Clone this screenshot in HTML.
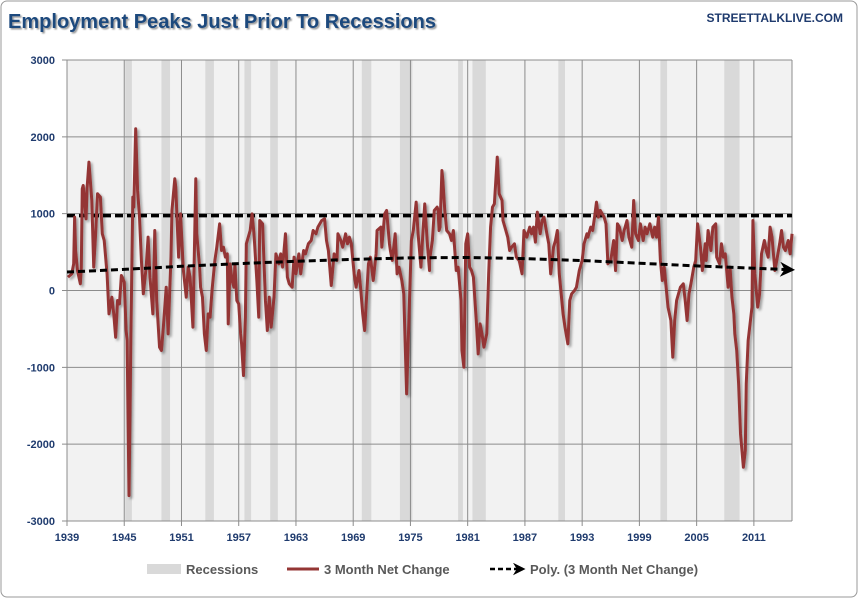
<!DOCTYPE html>
<html><head><meta charset="utf-8"><style>
body{margin:0;background:#fff;}
svg text{font-family:"Liberation Sans",sans-serif;}
</style></head><body>
<svg id="c" width="859" height="599" xmlns="http://www.w3.org/2000/svg">
<defs>
<filter id="sh" x="-5%" y="-5%" width="110%" height="110%"><feDropShadow dx="2" dy="2" stdDeviation="1.2" flood-color="#000" flood-opacity="0.35"/></filter>
<filter id="tsh"><feDropShadow dx="1.5" dy="1.5" stdDeviation="0.8" flood-color="#000" flood-opacity="0.4"/></filter>
<marker id="arr" viewBox="0 0 10 10" refX="8" refY="5" markerWidth="5" markerHeight="5" orient="auto"><path d="M0,0 L10,5 L0,10 L3,5 z" fill="#000"/></marker>
</defs>
<rect x="1" y="1" width="856" height="596" rx="6" fill="#fff" stroke="#999"/>
<text x="8" y="28" font-size="20" font-weight="bold" fill="#1f497d" filter="url(#tsh)" textLength="428" lengthAdjust="spacingAndGlyphs">Employment Peaks Just Prior To Recessions</text>
<text x="843" y="22" font-size="12" font-weight="bold" fill="#1f3b6e" text-anchor="end">STREETTALKLIVE.COM</text>
<rect x="67" y="60" width="725" height="461" fill="#f2f2f2"/>
<g id="rec"></g><g id="grid"></g><g id="axes"></g><g id="series"></g>
<g>
<rect x="147" y="564" width="34" height="10" fill="#d9d9d9"/>
<text x="186" y="574" font-size="13" font-weight="bold" fill="#595959">Recessions</text>
<line x1="287" y1="569" x2="319" y2="569" stroke="#943634" stroke-width="3"/>
<text x="324" y="574" font-size="13" font-weight="bold" fill="#595959">3 Month Net Change</text>
<line x1="490" y1="569" x2="523" y2="569" stroke="#000" stroke-width="2.5" stroke-dasharray="5,3" marker-end="url(#arr)"/>
<text x="530" y="574" font-size="13" font-weight="bold" fill="#595959">Poly. (3 Month Net Change)</text>
</g>
</svg>
<script>
const years=[1939.1,1939.5,1939.7,1939.8,1939.9,1940.1,1940.4,1940.5,1940.6,1940.7,1941.0,1941.1,1941.3,1941.6,1941.8,1942.0,1942.2,1942.5,1942.7,1942.9,1943.2,1943.4,1943.7,1943.9,1944.1,1944.3,1944.5,1944.7,1945.0,1945.2,1945.3,1945.5,1945.7,1945.9,1946.0,1946.2,1946.4,1946.6,1946.8,1947.0,1947.3,1947.5,1947.7,1948.0,1948.2,1948.4,1948.7,1948.9,1949.1,1949.4,1949.6,1949.9,1950.0,1950.3,1950.4,1950.7,1950.9,1951.2,1951.5,1951.7,1951.9,1952.2,1952.5,1952.6,1952.9,1953.0,1953.2,1953.4,1953.6,1953.8,1954.0,1954.2,1954.5,1954.7,1955.0,1955.2,1955.4,1955.6,1955.8,1955.9,1956.1,1956.3,1956.5,1956.6,1956.8,1957.0,1957.2,1957.3,1957.5,1957.7,1957.8,1958.2,1958.4,1958.6,1958.9,1959.1,1959.2,1959.5,1959.8,1960.0,1960.2,1960.4,1960.7,1960.9,1961.2,1961.4,1961.6,1961.9,1962.1,1962.3,1962.6,1962.8,1963.0,1963.3,1963.5,1963.8,1964.0,1964.3,1964.6,1964.8,1965.1,1965.3,1965.7,1966.0,1966.2,1966.4,1966.7,1967.0,1967.3,1967.4,1967.7,1967.9,1968.2,1968.4,1968.6,1968.8,1969.1,1969.3,1969.6,1969.8,1970.0,1970.2,1970.4,1970.6,1970.8,1971.1,1971.4,1971.5,1971.9,1972.0,1972.3,1972.5,1972.8,1972.9,1973.1,1973.4,1973.6,1973.8,1974.1,1974.3,1974.6,1974.9,1975.1,1975.3,1975.6,1975.8,1976.1,1976.3,1976.5,1976.8,1977.0,1977.0,1977.3,1977.5,1977.8,1977.9,1978.0,1978.1,1978.3,1978.4,1978.6,1978.8,1979.1,1979.3,1979.5,1979.8,1980.0,1980.3,1980.4,1980.6,1980.8,1981.0,1981.2,1981.4,1981.6,1981.9,1982.1,1982.3,1982.5,1982.7,1983.0,1983.2,1983.4,1983.6,1983.8,1984.1,1984.3,1984.6,1984.7,1984.9,1985.2,1985.4,1985.6,1985.9,1986.1,1986.4,1986.7,1986.9,1987.2,1987.5,1987.7,1987.9,1988.1,1988.3,1988.6,1988.8,1989.0,1989.3,1989.5,1989.7,1990.0,1990.2,1990.4,1990.6,1990.8,1991.0,1991.2,1991.5,1991.7,1991.9,1992.2,1992.4,1992.7,1993.0,1993.2,1993.5,1993.6,1993.9,1994.1,1994.3,1994.5,1994.7,1994.9,1995.3,1995.5,1995.7,1996.0,1996.3,1996.5,1996.7,1996.9,1997.2,1997.4,1997.7,1997.9,1998.2,1998.4,1998.6,1998.9,1999.1,1999.4,1999.6,1999.8,2000.1,2000.4,2000.6,2000.8,2001.0,2001.2,2001.4,2001.6,2001.8,2002.0,2002.3,2002.5,2002.7,2002.9,2003.1,2003.3,2003.6,2003.8,2004.0,2004.2,2004.4,2004.7,2004.9,2005.1,2005.4,2005.6,2005.9,2006.0,2006.2,2006.5,2006.7,2007.0,2007.1,2007.4,2007.6,2007.8,2008.0,2008.3,2008.5,2008.7,2008.9,2009.0,2009.2,2009.4,2009.6,2009.9,2010.1,2010.2,2010.4,2010.6,2010.8,2010.9,2011.1,2011.4,2011.6,2011.8,2012.1,2012.3,2012.5,2012.7,2012.9,2013.2,2013.4,2013.7,2013.9,2014.1,2014.3,2014.6,2014.8,2015.0];
const netChange=[174,217,347,955,520,260,87,304,1324,1367,933,1324,1671,1172,304,738,1259,1215,738,651,217,-304,-87,-304,-608,-130,-174,195,109,-521,-651,-2669,-564,1215,1085,2105,1302,955,391,-43,304,694,174,-304,781,-130,-738,-781,-477,43,-564,434,1042,1454,1346,434,998,260,-87,304,174,-477,1454,738,304,43,-87,-564,-781,-304,-347,0,391,564,868,520,564,434,477,-434,347,130,43,347,-130,-174,-564,-694,-1107,-347,608,781,998,738,130,-347,911,868,-130,-521,-87,-477,-87,477,347,477,304,738,174,87,43,434,217,477,217,520,477,608,651,781,738,825,911,933,651,520,65,477,391,738,651,564,738,608,694,608,217,43,260,0,-304,-521,-87,347,434,130,477,781,825,564,998,1042,608,520,391,738,217,304,130,-43,-1345,-130,651,781,1150,738,304,738,1128,564,260,391,651,1042,1085,1042,781,825,1562,1432,1042,781,738,651,781,260,304,-130,-781,-998,608,738,304,260,174,-391,-825,-434,-564,-738,-564,217,825,1085,1128,1736,1259,1172,911,825,694,520,564,608,434,391,217,781,694,825,738,825,629,1020,738,911,955,738,608,217,564,651,781,217,-43,-304,-477,-694,-130,-43,0,43,260,391,608,738,694,825,781,955,1150,955,1042,955,868,347,391,651,260,868,825,651,781,911,694,564,1172,738,651,868,651,825,738,868,694,825,694,955,391,130,304,43,-217,-391,-868,-391,-130,-43,43,87,-130,-391,-43,87,304,391,868,564,260,608,391,781,520,825,868,434,347,608,434,477,43,304,-87,-304,-564,-781,-1215,-1866,-2300,-2083,-1215,-651,-434,-217,911,217,-217,-43,477,651,520,434,825,694,260,391,608,781,564,520,651,477,738,825,738,998];
const recessions=[[1945.1,1945.8],[1948.9,1949.8],[1953.5,1954.4],[1957.6,1958.3],[1960.3,1961.1],[1969.9,1970.9],[1973.9,1975.2],[1980.0,1980.5],[1981.5,1982.9],[1990.5,1991.2],[2001.2,2001.9],[2007.9,2009.5]];
const polyYears=[1939,1945,1951,1957,1963,1969,1975,1981,1987,1993,1999,2005,2011,2015];
const polyValues=[240,275,315,350,380,405,425,430,415,390,355,320,290,270];
const flatLevel=[975,975];
const flatYears=[1939,2015];
const xTicks=[1939,1945,1951,1957,1963,1969,1975,1981,1987,1993,1999,2005,2011];
const yTicks=[-3000,-2000,-1000,0,1000,2000,3000];
const NS='http://www.w3.org/2000/svg';
const X=y=>67+(y-1939)*9.54;
const Y=v=>290.5-v*0.07683;
function mk(t,a,p){const e=document.createElementNS(NS,t);for(const k in a)e.setAttribute(k,a[k]);p.appendChild(e);return e;}
const rec=document.getElementById('rec'),grid=document.getElementById('grid'),axes=document.getElementById('axes'),ser=document.getElementById('series');
recessions.forEach(r=>{const e=mk('rect',{x:X(r[0]),y:60,width:X(r[1])-X(r[0]),height:461,fill:'#d9d9d9'},rec);

});
yTicks.forEach(t=>{const l=mk('line',{x1:62,x2:792,y1:Y(t),y2:Y(t),stroke:'#8c8c8c','stroke-width':1},grid);


const tx=mk('text',{x:55,y:Y(t)+4,'font-size':11,'font-weight':'bold',fill:'#1f3b6e','text-anchor':'end'},axes);tx.textContent=t;

});
xTicks.forEach(t=>{const l=mk('line',{x1:X(t),x2:X(t),y1:60,y2:526,stroke:'#8c8c8c','stroke-width':1},grid);


const tx=mk('text',{x:X(t),y:541,'font-size':11,'font-weight':'bold',fill:'#1f3b6e','text-anchor':'middle'},axes);tx.textContent=t;

});
const rb=mk('line',{x1:792,x2:792,y1:60,y2:521,stroke:'#8c8c8c'},grid);


const fl=mk('line',{x1:X(flatYears[0]),x2:X(flatYears[1]),y1:Y(flatLevel[0]),y2:Y(flatLevel[1]),stroke:'#000','stroke-width':3.5,'stroke-dasharray':'8,4'},ser);


const p=mk('polyline',{points:years.map((y,i)=>X(y)+','+Y(netChange[i])).join(' '),fill:'none',stroke:'#943634','stroke-width':3,'stroke-linejoin':'round',filter:'url(#sh)'},ser);


const pl=mk('polyline',{points:polyYears.map((y,i)=>X(y)+','+Y(polyValues[i])).join(' '),fill:'none',stroke:'#000','stroke-width':3,'stroke-dasharray':'7,4','marker-end':'url(#arr)'},ser);


</script>
</body></html>
